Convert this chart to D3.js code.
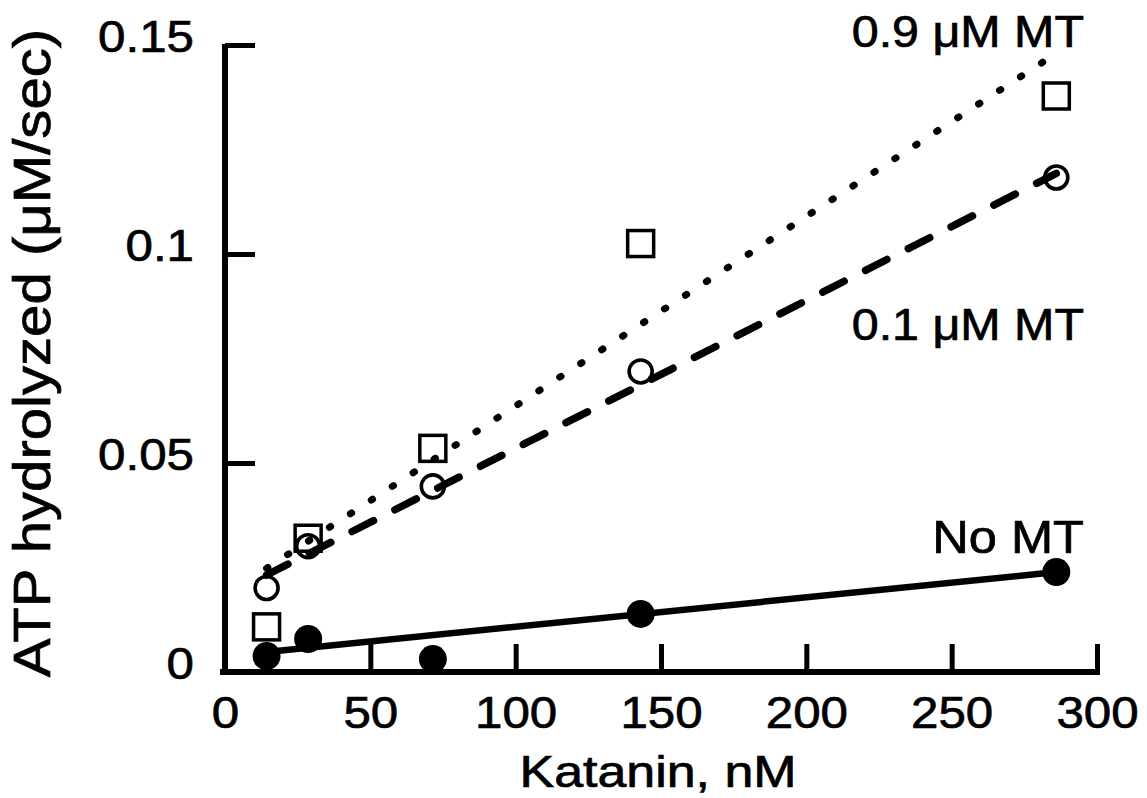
<!DOCTYPE html>
<html>
<head>
<meta charset="utf-8">
<script src="https://cdn.jsdelivr.net/npm/d3@7"></script>
<style>
  body { margin: 0; background: #fff; }
  svg text { font-family: "Liberation Sans", Arial, Helvetica, sans-serif; fill: #000; stroke: #000; stroke-width: 0.7px; }
</style>
</head>
<body>
<div id="chart"></div>
<script>
// katanin concentration (nM) and ATP hydrolysis rates (uM/sec)
var katanin = [14.3, 28.6, 71.5, 143, 286];
var noMT = [0.0038, 0.0079, 0.0031, 0.0139, 0.0239];
var mt01 = [0.0201, 0.0301, 0.0444, 0.0719, 0.1183];
var mt09 = [0.0108, 0.0320, 0.0535, 0.1025, 0.1378];

// fitted lines (end points)
var fitX = [14.3, 286];
var fitNoMT = [0.0048, 0.0239];
var fit01 = [0.0232, 0.1193];
var fit09 = [0.0248, 0.1480];

var xTicks = [0, 50, 100, 150, 200, 250, 300];
var yTicks = [0, 0.05, 0.1, 0.15];
var yTickLabels = ['0', '0.05', '0.1', '0.15'];
var seriesNames = ['No MT', '0.1 \u03bcM MT', '0.9 \u03bcM MT'];

var margin = {top: 45, right: 50, bottom: 126, left: 225},
  width = 1147 - margin.left - margin.right,
  height = 798 - margin.top - margin.bottom;

var svg = d3.select('#chart').append('svg')
  .attr('width', 1147)
  .attr('height', 798);
var g = svg.append('g')
  .attr('transform', 'translate(' + margin.left + ',' + margin.top + ')');

var x = d3.scaleLinear().domain([0, 300]).range([0, width]);
var y = d3.scaleLinear().domain([0, 0.15]).range([height, 0]);

var stretch = 1.12;

// axes, ticks pointing inward
var xAxis = d3.axisBottom(x).tickValues(xTicks).tickSizeInner(-28).tickSizeOuter(0)
  .tickFormat(function(d) { return d; });
var yAxis = d3.axisLeft(y).tickValues(yTicks).tickSizeInner(-30).tickSizeOuter(0)
  .tickFormat(function(d, i) { return yTickLabels[i]; });

var gx = g.append('g')
  .attr('class', 'xaxis')
  .attr('transform', 'translate(0,' + height + ')')
  .call(xAxis);
var gy = g.append('g')
  .attr('class', 'yaxis')
  .call(yAxis);

gx.select('.domain').style('stroke-width', '6px').attr('d', 'M-5,0H' + (width + 3));
gy.select('.domain').style('stroke-width', '6px').attr('d', 'M0,' + (height + 3) + 'V-1');
g.selectAll('.tick line').style('stroke-width', '5px');

gx.selectAll('.tick text')
  .attr('y', null).attr('dy', null)
  .attr('transform', 'translate(0,56) scale(' + stretch + ',1)')
  .style('font-size', '44px')
  .attr('text-anchor', 'middle');
gy.selectAll('.tick text')
  .attr('x', null).attr('dy', null)
  .attr('transform', 'translate(-31,6) scale(' + stretch + ',1)')
  .style('font-size', '44px')
  .attr('text-anchor', 'end');

// axis titles
svg.append('text')
  .attr('transform', 'translate(658,787) scale(1.18,1)')
  .attr('text-anchor', 'middle')
  .style('font-size', '44px')
  .text('Katanin, nM');

svg.append('text')
  .attr('transform', 'translate(50,353) rotate(-90) scale(1.14,1)')
  .attr('text-anchor', 'middle')
  .style('font-size', '51px')
  .text('ATP hydrolyzed (\u03bcM/sec)');

// fit lines
var line = d3.line()
  .x(function(d) { return x(d[0]); })
  .y(function(d) { return y(d[1]); });

function fitPts(vals) {
  return fitX.map(function(v, i) { return [v, vals[i]]; });
}

g.append('path')
  .attr('d', line(fitPts(fitNoMT)))
  .attr('fill', 'none').attr('stroke', '#000')
  .attr('stroke-width', 6.5);
g.append('path')
  .attr('d', line(fitPts(fit01)))
  .attr('fill', 'none').attr('stroke', '#000')
  .attr('stroke-width', 7.5)
  .attr('stroke-linecap', 'round')
  .attr('stroke-dasharray', '24,24');
g.append('path')
  .attr('d', line(fitPts(fit09)))
  .attr('fill', 'none').attr('stroke', '#000')
  .attr('stroke-width', 7)
  .attr('stroke-linecap', 'round')
  .attr('stroke-dasharray', '1.5,23.5');

// markers
g.selectAll('.sq')
  .data(katanin)
  .enter().append('rect')
  .attr('class', 'sq')
  .attr('x', function(d) { return x(d) - 13; })
  .attr('y', function(d, i) { return y(mt09[i]) - 13; })
  .attr('width', 26).attr('height', 26)
  .attr('fill', 'none').attr('stroke', '#000').attr('stroke-width', 3.5);

g.selectAll('.open')
  .data(katanin)
  .enter().append('circle')
  .attr('class', 'open')
  .attr('cx', function(d) { return x(d); })
  .attr('cy', function(d, i) { return y(mt01[i]); })
  .attr('r', 11.5)
  .attr('fill', 'none').attr('stroke', '#000').attr('stroke-width', 3.6);

g.selectAll('.filled')
  .data(katanin)
  .enter().append('circle')
  .attr('class', 'filled')
  .attr('cx', function(d) { return x(d); })
  .attr('cy', function(d, i) { return y(noMT[i]); })
  .attr('r', 14)
  .attr('fill', '#000');

// series labels, right aligned near the last point
var labelY = [553, 340, 47];
var labelSize = [46, 44, 44];
seriesNames.forEach(function(name, i) {
  svg.append('text')
    .attr('transform', 'translate(1084,' + labelY[i] + ') scale(1.1,1)')
    .attr('text-anchor', 'end')
    .style('font-size', labelSize[i] + 'px')
    .text(name);
});
</script>
</body>
</html>
